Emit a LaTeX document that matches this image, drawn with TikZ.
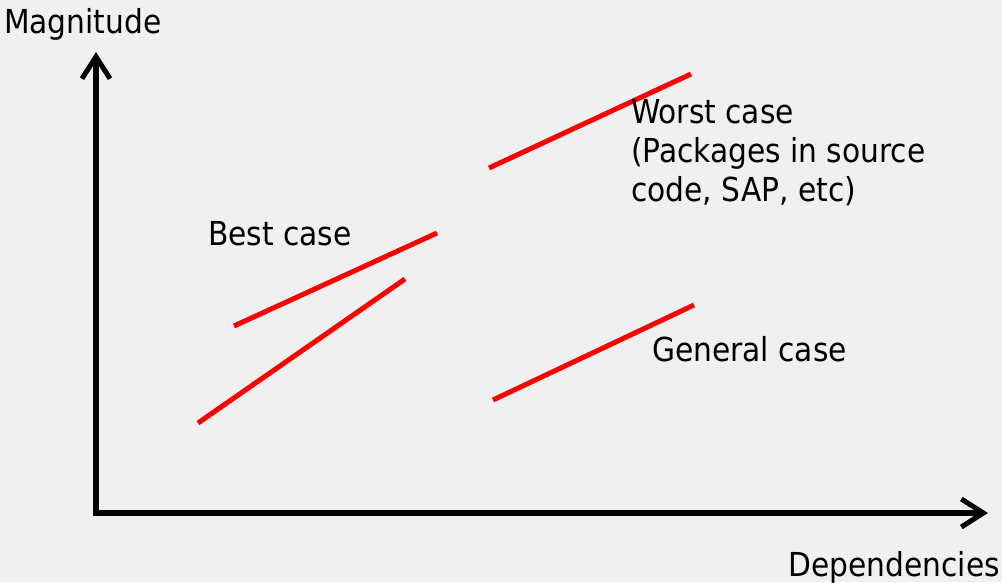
\documentclass[tikz,border=0pt]{standalone}
\usepackage{fontspec}
\setmainfont{DejaVu Sans Condensed}
\usetikzlibrary{arrows.meta}
\definecolor{paper}{HTML}{F0F0F0}
\definecolor{trend}{HTML}{FF0000}
\begin{document}
\begin{tikzpicture}[x=1pt,y=-1pt,
  axis/.style={line width=5.5pt,line join=miter,
    arrows={Straight Barb[length=22pt,width=28pt,line width=5pt]-Straight Barb[length=22pt,width=28pt,line width=5pt]}},
  trendline/.style={trend,line width=5pt},
  lbl/.style={inner sep=0pt,anchor=base west,font=\fontsize{33}{39}\selectfont,align=left}]
  % canvas
  \fill[paper] (0,0) rectangle (1002,582);
  \useasboundingbox (0,0) rectangle (1002,582);

  % axes
  \coordinate (ytip) at (96,52);
  \coordinate (origin) at (96,513);
  \coordinate (xtip) at (988,513);
  \draw[axis] (ytip) -- (origin) -- (xtip);

  % axis titles
  \node[lbl] (mag) at (4,33) {Magnitude};
  \node[lbl,anchor=base east] (dep) at (1000,576) {Dependencies};

  % trend segments
  \coordinate (w1) at (489,168); \coordinate (w2) at (691,74);
  \coordinate (b1) at (234,326); \coordinate (b2) at (437,233);
  \coordinate (c1) at (198,423); \coordinate (c2) at (405,279);
  \coordinate (g1) at (493,400); \coordinate (g2) at (694,305);
  \draw[trendline] (w1) -- (w2);
  \draw[trendline] (b1) -- (b2);
  \draw[trendline] (c1) -- (c2);
  \draw[trendline] (g1) -- (g2);

  % case labels (base anchor of a multi-line node sits on its last line)
  \node[lbl] (worst) at (631,201) {Worst case\\(Packages in source\\code, SAP, etc)};
  \node[lbl] (best) at (208,245) {Best case};
  \node[lbl] (general) at (652,361) {General case};
\end{tikzpicture}
\end{document}
